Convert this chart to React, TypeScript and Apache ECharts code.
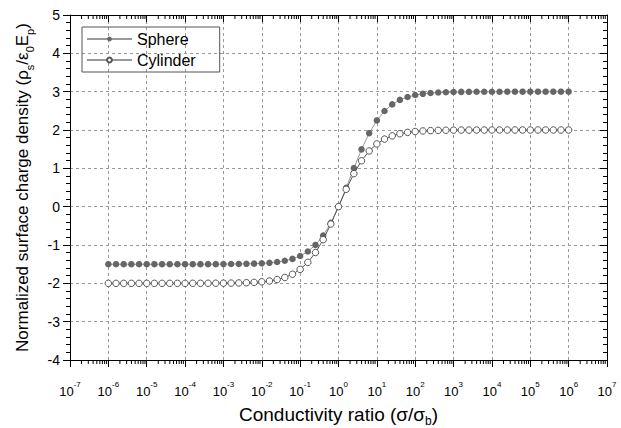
import React, { useEffect, useRef } from "react";
import * as echarts from "echarts";

// exponents of the conductivity ratio (log10 of sigma/sigma_b)
const exponents: number[] = [
  -6, -5.8, -5.6, -5.4, -5.2, -5, -4.8, -4.6, -4.4, -4.2,
  -4, -3.8, -3.6, -3.4, -3.2, -3, -2.8, -2.6, -2.4, -2.2,
  -2, -1.8, -1.6, -1.4, -1.2, -1, -0.8, -0.6, -0.4, -0.2,
  0, 0.2, 0.4, 0.6, 0.8, 1, 1.2, 1.4, 1.6, 1.8,
  2, 2.2, 2.4, 2.6, 2.8, 3, 3.2, 3.4, 3.6, 3.8,
  4, 4.2, 4.4, 4.6, 4.8, 5, 5.2, 5.4, 5.6, 5.8, 6,
];

const sphere: number[] = [
  -1.5, -1.5, -1.5, -1.5, -1.5, -1.5, -1.5, -1.5, -1.5, -1.5,
  -1.5, -1.5, -1.499, -1.499, -1.499, -1.498, -1.496, -1.494, -1.491, -1.486,
  -1.478, -1.465, -1.444, -1.412, -1.362, -1.286, -1.17, -0.998, -0.753, -0.421,
  0, 0.49, 1.005, 1.495, 1.917, 2.25, 2.496, 2.668, 2.785, 2.862,
  2.912, 2.944, 2.964, 2.978, 2.986, 2.991, 2.994, 2.996, 2.998, 2.999,
  2.999, 2.999, 3.0, 3.0, 3.0, 3.0, 3.0, 3.0, 3.0, 3.0, 3.0,
];

const cylinder: number[] = [
  -2, -2, -2, -2, -2, -2, -2, -2, -2, -2,
  -2, -1.999, -1.999, -1.998, -1.997, -1.996, -1.994, -1.99, -1.984, -1.975,
  -1.96, -1.938, -1.902, -1.847, -1.763, -1.636, -1.453, -1.197, -0.861, -0.453,
  0, 0.453, 0.861, 1.197, 1.453, 1.636, 1.763, 1.847, 1.902, 1.938,
  1.96, 1.975, 1.984, 1.99, 1.994, 1.996, 1.998, 1.998, 1.999, 1.999,
  2, 2, 2, 2, 2, 2, 2, 2, 2, 2, 2,
];

const yTicks = { min: -4, max: 5, interval: 1 };
const xRange = { min: 1e-7, max: 1e7 };

const FONT = "Liberation Sans, Arial, sans-serif";

export default function App() {
  const ref = useRef<HTMLDivElement>(null);

  useEffect(() => {
    if (!ref.current) return;
    const chart = echarts.init(ref.current, undefined, { renderer: "svg" });

    const minorTicks: number[][] = [];
    for (let d = -7; d < 7; d++) {
      for (let m = 2; m <= 9; m++) minorTicks.push([m * Math.pow(10, d)]);
    }

    const xLabel = (v: number) => {
      const e = Math.round(Math.log10(v));
      return `10{sup|${e}}`;
    };

    const subRich = (fs: number) => ({
      sub: { fontSize: fs, lineHeight: 25, verticalAlign: "bottom", fontFamily: FONT, color: "#000" },
    });

    const commonX = {
      type: "log" as const,
      logBase: 10,
      min: xRange.min,
      max: xRange.max,
      interval: 1,
      axisLine: { onZero: false, lineStyle: { color: "#000", width: 1 } },
    };
    const commonY = {
      type: "value" as const,
      min: yTicks.min,
      max: yTicks.max,
      interval: yTicks.interval,
      axisLine: { show: true, onZero: false, lineStyle: { color: "#000", width: 1 } },
    };

    chart.setOption({
      animation: false,
      backgroundColor: "#fff",
      textStyle: { fontFamily: FONT },
      grid: { left: 70, right: 14, top: 15, bottom: 68, containLabel: false, outerBoundsMode: "none" },
      legend: {
        orient: "vertical",
        left: 82,
        top: 27,
        data: ["Sphere", { name: "Cylinder", lineStyle: { color: "#999" } }],
        itemWidth: 45,
        itemHeight: 6,
        itemGap: 5,
        padding: [4, 24, 4, 4],
        borderColor: "#555",
        borderWidth: 1,
        textStyle: { fontSize: 16, color: "#000", fontFamily: FONT },
      },
      xAxis: [
        {
          ...commonX,
          position: "bottom",
          name: "Conductivity ratio (σ/σ{sub|b})",
          nameLocation: "middle",
          nameGap: 42,
          nameMoveOverlap: false,
          nameTextStyle: {
            fontSize: 19,
            color: "#000",
            fontFamily: FONT,
            lineHeight: 22,
            rich: subRich(12),
          },
          axisTick: { inside: false, length: 7, lineStyle: { color: "#000" } },
          axisLabel: {
            formatter: xLabel,
            margin: 20,
            fontSize: 13,
            color: "#000",
            fontFamily: FONT,
            lineHeight: 22,
            rich: { sup: { fontSize: 8, lineHeight: 22, verticalAlign: "top", fontFamily: FONT, color: "#000" } },
          },
          splitLine: { show: true, lineStyle: { color: "#999", type: [3, 3], width: 1 } },
        },
        {
          ...commonX,
          position: "top",
          axisTick: { inside: true, length: 7, lineStyle: { color: "#000" } },
          axisLabel: { show: false },
          splitLine: { show: false },
        },
      ],
      yAxis: [
        {
          ...commonY,
          position: "left",
          name: "Normalized surface charge density (ρ{sub|s}/ε{sub|0}E{sub|p})",
          nameLocation: "middle",
          nameGap: 35,
          nameMoveOverlap: false,
          nameTextStyle: {
            fontSize: 17,
            color: "#000",
            fontFamily: FONT,
            lineHeight: 22,
            rich: subRich(11),
          },
          axisTick: { show: true, inside: false, length: 7, lineStyle: { color: "#000" } },
          minorTick: { show: true, splitNumber: 5, length: 4, lineStyle: { color: "#000" } },
          axisLabel: { fontSize: 14, color: "#000", margin: 10, fontFamily: FONT },
          splitLine: { show: true, lineStyle: { color: "#999", type: [3, 3], width: 1 } },
        },
        {
          ...commonY,
          position: "right",
          axisTick: { show: true, inside: true, length: 7, lineStyle: { color: "#000" } },
          minorTick: { show: true, splitNumber: 5, length: 4, lineStyle: { color: "#000" } },
          axisLabel: { show: false },
          splitLine: { show: false },
        },
      ],
      series: [
        {
          name: "Sphere",
          type: "line",
          data: exponents.map((e, i) => [Math.pow(10, e), sphere[i]]),
          symbol: "circle",
          symbolSize: 6.5,
          showSymbol: true,
          lineStyle: { color: "#999", width: 1 },
          itemStyle: { color: "#666", borderColor: "#666", borderWidth: 0 },
          z: 3,
        },
        {
          name: "Cylinder",
          type: "line",
          data: exponents.map((e, i) => [Math.pow(10, e), cylinder[i]]),
          symbol: "circle",
          symbolSize: 6.5,
          showSymbol: true,
          lineStyle: { color: "#555", width: 1 },
          itemStyle: { color: "#fff", borderColor: "#555", borderWidth: 1 },
          z: 4,
        },
        {
          type: "custom",
          silent: true,
          clip: false,
          data: minorTicks,
          encode: { x: 0 },
          renderItem: (_p: any, api: any) => {
            const x = api.value(0);
            const b = api.coord([x, yTicks.min]);
            const t = api.coord([x, yTicks.max]);
            return {
              type: "group",
              children: [
                { type: "line", shape: { x1: b[0], y1: b[1], x2: b[0], y2: b[1] + 4 }, style: { stroke: "#000", lineWidth: 1 } },
                { type: "line", shape: { x1: t[0], y1: t[1], x2: t[0], y2: t[1] + 4 }, style: { stroke: "#000", lineWidth: 1 } },
              ],
            };
          },
        },
      ],
    });

    return () => chart.dispose();
  }, []);

  return <div ref={ref} style={{ position: "fixed", left: 0, top: 0, width: 621, height: 428 }} />;
}
